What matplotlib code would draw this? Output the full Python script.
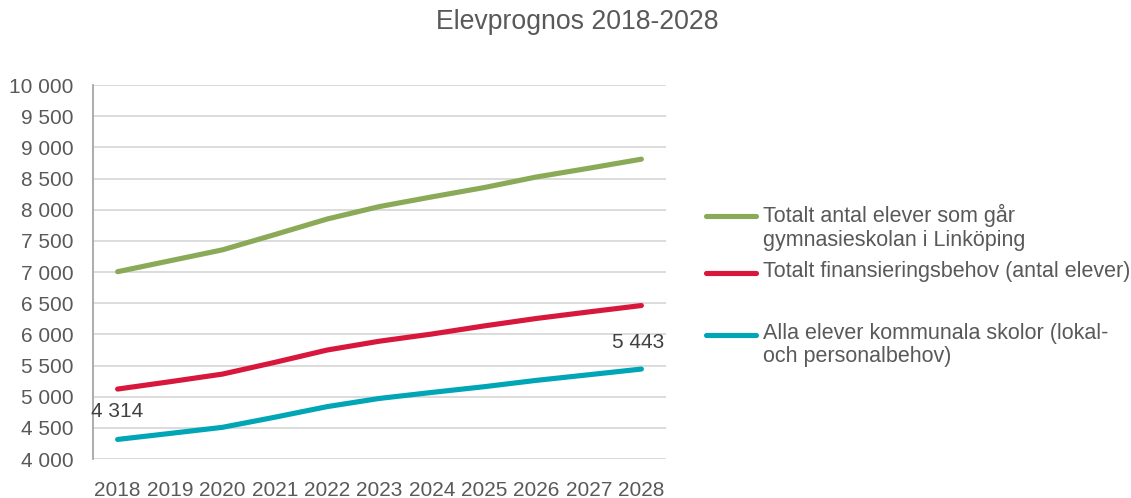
import matplotlib
matplotlib.use("Agg")
import matplotlib.pyplot as plt
from matplotlib.lines import Line2D
from matplotlib.ticker import FuncFormatter

plt.rcParams['font.family'] = ['Liberation Sans', 'DejaVu Sans']

years = [2018, 2019, 2020, 2021, 2022, 2023, 2024, 2025, 2026, 2027, 2028]
totalt_elever = [7005, 7180, 7355, 7600, 7850, 8050, 8205, 8355, 8525, 8665, 8810]
finansiering = [5122, 5240, 5362, 5550, 5748, 5890, 6005, 6135, 6255, 6360, 6462]
kommunala = [4314, 4410, 4508, 4670, 4840, 4972, 5068, 5160, 5262, 5352, 5443]

series_labels = [
    "Totalt antal elever som går\ngymnasieskolan i Linköping",
    "Totalt finansieringsbehov (antal elever)",
    "Alla elever kommunala skolor (lokal-\noch personalbehov)",
]
colors = ["#8BAA58", "#D7173C", "#00A6B6"]
title = "Elevprognos 2018-2028"

W, H = 1131, 498
fig = plt.figure(figsize=(W / 100, H / 100), dpi=100)
ax = fig.add_axes([93 / W, 1 - 459 / H, (666 - 93) / W, (459 - 85) / H])

text_color = "#595959"
xs = list(range(len(years)))
for vals, c in zip([totalt_elever, finansiering, kommunala], colors):
    ax.plot(xs, vals, color=c, lw=3.7, solid_capstyle='round', zorder=3)

ax.set_xlim(-0.47, len(years) - 0.53)
ax.set_ylim(4000, 10000)
ax.set_yticks(range(4000, 10001, 500))
ax.yaxis.set_major_formatter(FuncFormatter(lambda v, p: f"{int(v):,}".replace(",", " ")))
ax.set_xticks(xs)
ax.set_xticklabels([str(y) for y in years])
ax.grid(axis='y', color="#D9D9D9", lw=1.3, zorder=0)
ax.set_axisbelow(True)
for s in ['top', 'right', 'bottom']:
    ax.spines[s].set_visible(False)
ax.spines['left'].set_color("#A6A6A6")
ax.spines['left'].set_linewidth(1.3)
ax.tick_params(axis='y', length=0, pad=14, labelsize=15, labelcolor=text_color)
ax.tick_params(axis='x', length=0, pad=16, labelsize=15, labelcolor=text_color)

# data labels
ax.annotate(f"{kommunala[0]:,}".replace(",", " "), (xs[0], kommunala[0]),
            xytext=(0, 20), textcoords='offset points', ha='center', va='center',
            fontsize=15, color="#404040")
ax.annotate(f"{kommunala[-1]:,}".replace(",", " "), (xs[-1], kommunala[-1]),
            xytext=(-2, 19), textcoords='offset points', ha='center', va='center',
            fontsize=15, color="#404040")

fig.text(577 / W, 1 - 22 / H, title, ha='center', va='center', fontsize=19.2, color=text_color)

# legend (manual)
leg_y = [216, 273, 335]
for y, c, lab in zip(leg_y, colors, series_labels):
    fig.add_artist(Line2D([706 / W, 756 / W], [1 - y / H, 1 - y / H], color=c, lw=3.7,
                          solid_capstyle='round', transform=fig.transFigure))
    fig.text(763 / W, 1 - (y - 12) / H, lab, ha='left', va='top', fontsize=15.5,
             color=text_color, linespacing=1.15)

fig.savefig("out.png", dpi=100)
